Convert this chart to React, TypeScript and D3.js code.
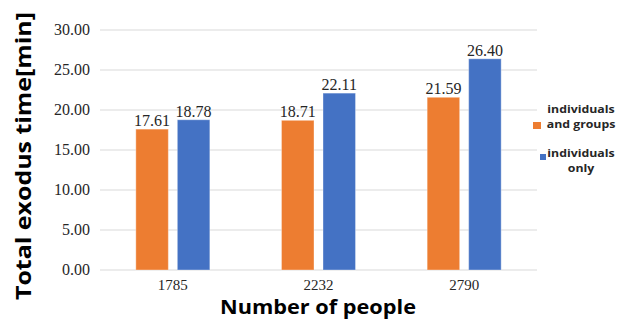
import React from "react";
import * as d3 from "d3";

// Exodus time by crowd size, for two movement models
const categories = ["1785", "2232", "2790"];
const seriesNames = ["individuals and groups", "individuals only"];
const groupsValues = [17.61, 18.71, 21.59];
const individualsValues = [18.78, 22.11, 26.4];
const yTicks = [0, 5, 10, 15, 20, 25, 30];
const colors = ["#ED7D31", "#4472C4"];
const legendLines = [
  ["individuals", "and groups"],
  ["individuals", "only"],
];

const W = 617;
const H = 320;
const plot = { left: 100, right: 537, top: 30, bottom: 270 };

export default function App() {
  const x0 = d3
    .scaleBand<string>()
    .domain(categories)
    .range([plot.left, plot.right])
    .padding(0);
  const x1 = d3
    .scaleBand<string>()
    .domain(seriesNames)
    .range([0, x0.bandwidth()])
    .paddingInner(0.217)
    .paddingOuter(0.863);
  const y = d3.scaleLinear().domain([0, 30]).range([plot.bottom, plot.top]);
  const fmt = d3.format(".2f");

  const seriesValues = [groupsValues, individualsValues];
  const serif = "'Liberation Serif', 'Times New Roman', serif";
  const sans = "'Open Sans', 'DejaVu Sans', sans-serif";
  const textColor = "#262626";

  return (
    <svg
      width={W}
      height={H}
      style={{ position: "absolute", left: 0, top: 0, background: "#fff" }}
    >
      {/* gridlines */}
      {yTicks.map((t) => (
        <line
          key={"g" + t}
          x1={plot.left}
          x2={plot.right}
          y1={y(t)}
          y2={y(t)}
          stroke="#d9d9d9"
          strokeWidth={1}
        />
      ))}
      {/* y tick labels */}
      {yTicks.map((t) => (
        <text
          key={"t" + t}
          x={90}
          y={y(t)}
          dy="0.33em"
          textAnchor="end"
          fontFamily={serif}
          fontSize={16}
          fill={textColor}
        >
          {fmt(t)}
        </text>
      ))}
      {/* bars and value labels */}
      {categories.map((c, i) => (
        <g key={c} transform={`translate(${x0(c)},0)`}>
          {seriesNames.map((s, j) => {
            const v = seriesValues[j][i];
            const bx = x1(s)!;
            return (
              <g key={s}>
                <rect
                  x={bx}
                  y={y(v)}
                  width={x1.bandwidth()}
                  height={y(0) - y(v)}
                  fill={colors[j]}
                  stroke="#ffffff"
                  strokeOpacity={0.35}
                  strokeWidth={1}
                />
                <text
                  x={bx + x1.bandwidth() / 2}
                  y={y(v) - 3}
                  textAnchor="middle"
                  fontFamily={serif}
                  fontSize={16}
                  fill={textColor}
                >
                  {fmt(v)}
                </text>
              </g>
            );
          })}
          <text
            x={x0.bandwidth() / 2}
            y={289.5}
            textAnchor="middle"
            fontFamily={serif}
            fontSize={15}
            fill={textColor}
          >
            {c}
          </text>
        </g>
      ))}
      {/* axis titles */}
      <text
        x={318}
        y={314}
        textAnchor="middle"
        fontFamily={sans}
        fontWeight={700}
        fontSize={20}
        textLength={196}
        lengthAdjust="spacingAndGlyphs"
        fill="#000"
      >
        Number of people
      </text>
      <text
        transform="translate(31,156) rotate(-90)"
        textAnchor="middle"
        fontFamily={sans}
        fontWeight={700}
        fontSize={22}
        textLength={288}
        lengthAdjust="spacingAndGlyphs"
        fill="#000"
      >
        Total exodus time[min]
      </text>
      {/* legend */}
      <rect x={533} y={122} width={8} height={7} fill={colors[0]} />
      <rect x={540} y={154} width={6} height={6} fill={colors[1]} />
      {legendLines.map((lines, k) =>
        lines.map((line, li) => (
          <g
            key={`${k}-${li}`}
            transform={`translate(581,${(k === 0 ? 112.5 : 156.5) + li * 15}) scale(1.12,1)`}
          >
            <text
              x={0}
              y={0}
              textAnchor="middle"
              fontFamily={sans}
              fontWeight={700}
              fontSize={11}
              fill={textColor}
            >
              {line}
            </text>
          </g>
        ))
      )}
    </svg>
  );
}
